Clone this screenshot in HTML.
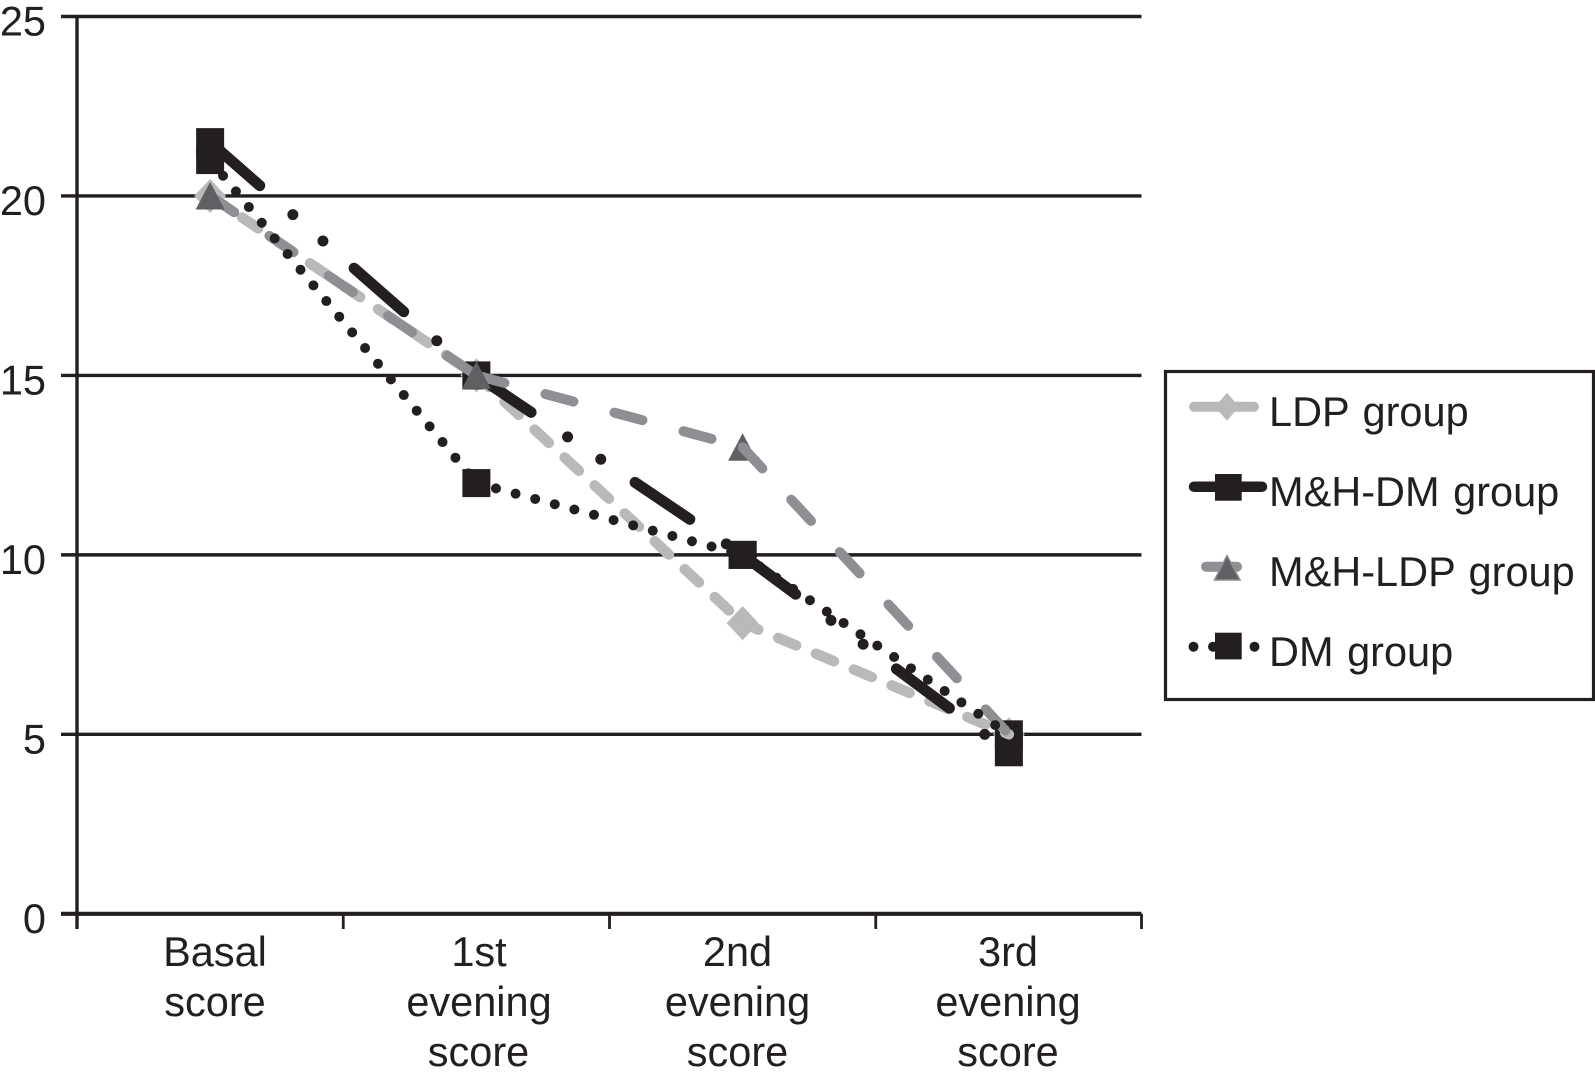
<!DOCTYPE html>
<html lang="en">
<head>
<meta charset="utf-8">
<title>Score by group</title>
<style>
  html, body { margin: 0; padding: 0; background: #ffffff; }
  svg { display: block; }
  text { font-family: "Liberation Sans", sans-serif; font-size: 41.5px; fill: #231f20; }
  .legend-text { word-spacing: 2px; }
</style>
</head>
<body>
<svg id="chart" xmlns="http://www.w3.org/2000/svg" width="1595" height="1075" viewBox="0 0 1595 1075">
  <rect x="0" y="0" width="1595" height="1075" fill="#ffffff"/>
  <g id="axes"></g>
  <g id="marks"></g>

  <g text-anchor="middle">
    <g>
      <text x="215" y="966">Basal</text>
      <text x="215" y="1016">score</text>
    </g>
    <g>
      <text x="479" y="966">1st</text>
      <text x="479" y="1016">evening</text>
      <text x="478.5" y="1066">score</text>
    </g>
    <g>
      <text x="737.5" y="966">2nd</text>
      <text x="737.5" y="1016">evening</text>
      <text x="737.5" y="1066">score</text>
    </g>
    <g>
      <text x="1008" y="966">3rd</text>
      <text x="1008" y="1016">evening</text>
      <text x="1008" y="1066">score</text>
    </g>
  </g>

  <g>
    <rect x="1165.5" y="371.5" width="428" height="328" fill="#ffffff" stroke="#231f20" stroke-width="3.2"/>

    <g>
      <line x1="1194" y1="406.7" x2="1254" y2="406.7" stroke="#b8b9bb" stroke-width="10" stroke-linecap="round"/>
      <polygon points="1227,392.7 1239,406.7 1227,420.7 1215,406.7" fill="#b8b9bb"/>
      <text class="legend-text" x="1269" y="426">LDP group</text>
    </g>

    <g>
      <line x1="1194" y1="486.7" x2="1262" y2="486.7" stroke="#231f20" stroke-width="10.5" stroke-linecap="round"/>
      <rect x="1215" y="474" width="26.7" height="26.7" fill="#231f20"/>
      <text class="legend-text" x="1269" y="506">M&amp;H-DM group</text>
    </g>

    <g>
      <line x1="1206" y1="566.7" x2="1237" y2="566.7" stroke="#8e8f92" stroke-width="10" stroke-linecap="round"/>
      <polygon points="1227,555.5 1240,580 1214.5,580" fill="#5f6062" stroke="#8e8f92" stroke-width="1.5"/>
      <text class="legend-text" x="1269" y="586">M&amp;H-LDP group</text>
    </g>

    <g>
      <circle cx="1193.5" cy="646.7" r="5" fill="#231f20"/>
      <circle cx="1213" cy="646.7" r="5" fill="#231f20"/>
      <rect x="1215" y="632.7" width="26.7" height="26.7" fill="#231f20"/>
      <circle cx="1254.5" cy="646.7" r="5" fill="#231f20"/>
      <text class="legend-text" x="1269" y="666">DM group</text>
    </g>
  </g>
</svg>

<script>
var categories = ["Basal score", "1st evening score", "2nd evening score", "3rd evening score"];
var yTickLabels = [0, 5, 10, 15, 20, 25];
var ldpValues = [20, 15, 8.1, 5];
var mhDmValues = [21.5, 15, 10, 4.5];
var mhLdpValues = [20, 15, 13, 5];
var dmValues = [21, 12, 10, 5];

var SVG_NS = "http://www.w3.org/2000/svg";
var INK = "#231f20";
var PLOT_LEFT = 77;
var PLOT_RIGHT = 1142;
var PLOT_TOP = 16.5;
var PLOT_BOTTOM = 913.8;
var Y_MAX = 25;

function xPos(i) {
  return PLOT_LEFT + (PLOT_RIGHT - PLOT_LEFT) * (i + 0.5) / categories.length;
}
function xEdge(i) {
  return PLOT_LEFT + (PLOT_RIGHT - PLOT_LEFT) * i / categories.length;
}
function yPos(v) {
  return PLOT_BOTTOM - (PLOT_BOTTOM - PLOT_TOP) * v / Y_MAX;
}
function make(tag, parent) {
  var el = document.createElementNS(SVG_NS, tag);
  parent.appendChild(el);
  return el;
}
function drawLine(parent, x1, y1, x2, y2, color, width) {
  var el = make("line", parent);
  el.setAttribute("x1", x1);
  el.setAttribute("y1", y1);
  el.setAttribute("x2", x2);
  el.setAttribute("y2", y2);
  el.setAttribute("stroke", color);
  el.setAttribute("stroke-width", width);
  return el;
}

var axes = document.getElementById("axes");
var marks = document.getElementById("marks");

yTickLabels.forEach(function (tick) {
  var rule = drawLine(axes, 61, yPos(tick), 1141.5, yPos(tick), INK, tick === 0 ? 4.2 : 3.4);
  
  
  var label = make("text", axes);
  label.setAttribute("x", 46);
  label.setAttribute("y", yPos(tick) + 19);
  label.setAttribute("text-anchor", "end");
  label.textContent = String(tick);
  
  
});

var yAxisLine = drawLine(axes, PLOT_LEFT, PLOT_TOP - 1.5, PLOT_LEFT, 929, INK, 3.4);



for (var t = 1; t <= categories.length; t++) {
  var xTick = drawLine(axes, xEdge(t) - (t === categories.length ? 0.5 : 0), PLOT_BOTTOM, xEdge(t) - (t === categories.length ? 0.5 : 0), 929, INK, 2.8);
  
  
}

function drawSegments(name, values, color, width, dash, offset, from, to) {
  var group = make("g", marks);
  
  
  for (var i = from; i < to; i++) {
    var seg = drawLine(group, xPos(i), yPos(values[i]), xPos(i + 1), yPos(values[i + 1]), color, width);
    seg.setAttribute("stroke-linecap", "round");
    seg.setAttribute("stroke-dasharray", dash);
    seg.setAttribute("stroke-dashoffset", offset);
    
    
  }
}
function drawSquares(name, values) {
  var group = make("g", marks);
  
  
  values.forEach(function (v, i) {
    var sq = make("rect", group);
    sq.setAttribute("x", xPos(i) - 14);
    sq.setAttribute("y", yPos(v) - 14);
    sq.setAttribute("width", 28);
    sq.setAttribute("height", 28);
    sq.setAttribute("fill", INK);
    
    
  });
}
function drawDiamonds(name, values) {
  var group = make("g", marks);
  
  
  values.forEach(function (v, i) {
    var cx = xPos(i), cy = yPos(v);
    var d = make("polygon", group);
    d.setAttribute("points", [cx, cy - 17, cx + 16, cy, cx, cy + 17, cx - 16, cy].join(" "));
    d.setAttribute("fill", "#b8b9bb");
    
    
  });
}
function drawTriangles(name, values) {
  var group = make("g", marks);
  
  
  values.forEach(function (v, i) {
    var cx = xPos(i), cy = yPos(v);
    var tri = make("polygon", group);
    tri.setAttribute("points", [cx, cy - 14, cx + 14.5, cy + 13.5, cx - 14.5, cy + 13.5].join(" "));
    tri.setAttribute("fill", "#5f6062");
    
    
  });
}

var LDP_STYLE = ["#b8b9bb", 10.5, "19.5 21.5", 2.5];
var MH_DM_STYLE = [INK, 11, "66 44 0 40 0 41.4", 0];
var MH_LDP_STYLE = ["#8e8f92", 10, "29 42.5", 0];
var lastSegment = categories.length - 2;

function drawRange(name, values, style, from, to) {
  drawSegments(name, values, style[0], style[1], style[2], style[3], from, to);
}

drawDiamonds("ldp", ldpValues);
drawSquares("mh-dm", mhDmValues);
drawRange("ldp", ldpValues, LDP_STYLE, 0, lastSegment);
drawRange("mh-dm", mhDmValues, MH_DM_STYLE, 0, lastSegment);
drawRange("mh-ldp", mhLdpValues, MH_LDP_STYLE, 0, lastSegment);
drawTriangles("mh-ldp", mhLdpValues);
drawSquares("dm", dmValues);
drawRange("ldp", ldpValues, LDP_STYLE, lastSegment, lastSegment + 1);
drawRange("mh-dm", mhDmValues, MH_DM_STYLE, lastSegment, lastSegment + 1);
drawRange("mh-ldp", mhLdpValues, MH_LDP_STYLE, lastSegment, lastSegment + 1);
drawSegments("dm", dmValues, INK, 10, "0 20.3", 0, 0, dmValues.length - 1);
</script>
</body>
</html>
